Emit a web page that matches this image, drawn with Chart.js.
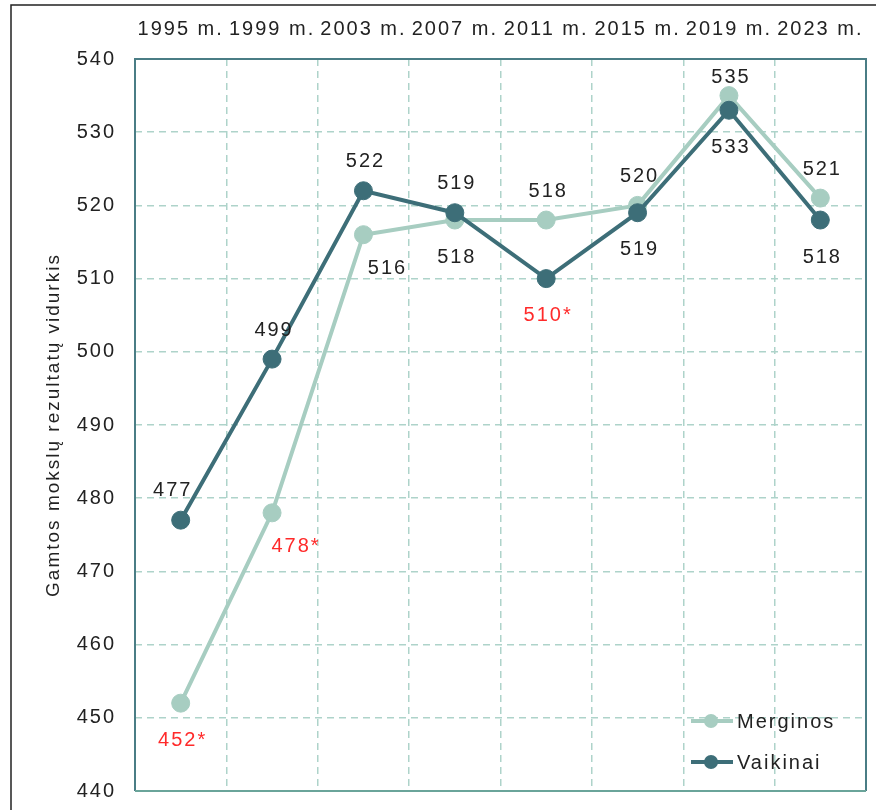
<!DOCTYPE html>
<html>
<head>
<meta charset="utf-8">
<script src="https://cdn.jsdelivr.net/npm/chart.js@4.4.1/dist/chart.umd.min.js"></script>
<style>
html,body{margin:0;padding:0;background:#fff}
#wrap{width:876px;height:810px}
</style>
</head>
<body>
<div id="wrap"><canvas id="myChart" width="876" height="810"></canvas></div>
<script>
// metai ir rezultatai
const metai = ['1995 m.', '1999 m.', '2003 m.', '2007 m.', '2011 m.', '2015 m.', '2019 m.', '2023 m.']
const merginos = [452, 478, 516, 518, 518, 520, 535, 521]
const vaikinai = [477, 499, 522, 519, 510, 519, 533, 518]
// statistiskai reiksmingas skirtumas (zymima *)
const merginosZvaigzde = [true, true, false, false, false, false, false, false]
const vaikinaiZvaigzde = [false, false, false, false, true, false, false, false]
const yTicks = [440, 450, 460, 470, 480, 490, 500, 510, 520, 530, 540]

const sviesi = '#a7cdc1'
const tamsi = '#3d6e78'
const tinklas = '#aed3ca'
const FONT = 'Liberation Sans'

// kur deti reiksmes etikete
const merginosVieta = ['down', 'downRight', 'downRight', 'down', 'up', 'up', 'up', 'up']
const vaikinaiVieta = ['upLeft', 'up', 'up', 'up', 'down', 'down', 'down', 'down']
const poslinkiai = {
    up: [2, -29],
    upLeft: [-8, -30],
    down: [2, 37],
    downRight: [24, 34]
}

const tarpai = {
    id: 'tarpai',
    beforeDraw(chart) {
        chart.ctx.letterSpacing = '2px'
        const ctx = chart.ctx
        ctx.save()
        ctx.strokeStyle = '#222'
        ctx.lineWidth = 1.5
        ctx.beginPath()
        ctx.moveTo(11, 810)
        ctx.lineTo(11, 5)
        ctx.lineTo(876, 5)
        ctx.stroke()
        ctx.restore()
    }
}

const remelis = {
    id: 'remelis',
    beforeDatasetsDraw(chart) {
        const {ctx, chartArea: a} = chart
        ctx.save()
        ctx.lineWidth = 2
        ctx.strokeStyle = '#4a7d85'
        ctx.beginPath()
        ctx.moveTo(a.left, a.bottom)
        ctx.lineTo(a.left, a.top)
        ctx.lineTo(a.right, a.top)
        ctx.lineTo(a.right, a.bottom)
        ctx.stroke()
        ctx.strokeStyle = '#6aa49a'
        ctx.beginPath()
        ctx.moveTo(a.left, a.bottom)
        ctx.lineTo(a.right, a.bottom)
        ctx.stroke()
        ctx.restore()
    }
}

const etiketes = {
    id: 'etiketes',
    afterDatasetsDraw(chart) {
        const ctx = chart.ctx
        const a = chart.chartArea
        const vietos = [merginosVieta, vaikinaiVieta]
        const zvaigzdes = [merginosZvaigzde, vaikinaiZvaigzde]
        ctx.save()
        ctx.font = '20px "' + FONT + '"'
        ctx.textAlign = 'center'
        ctx.textBaseline = 'middle'
        chart.data.datasets.forEach((ds, i) => {
            const meta = chart.getDatasetMeta(i)
            meta.data.forEach((pt, j) => {
                const off = poslinkiai[vietos[i][j]]
                let x = pt.x + off[0]
                let y = pt.y + off[1]
                if (y < a.top + 18) y = a.top + 18
                const zv = zvaigzdes[i][j]
                ctx.fillStyle = zv ? '#ff2a2a' : '#222'
                ctx.fillText(ds.data[j] + (zv ? '*' : ''), x, y)
            })
        })
        ctx.restore()
    }
}

const legenda = {
    id: 'legenda',
    afterDraw(chart) {
        const ctx = chart.ctx
        const a = chart.chartArea
        ctx.save()
        ctx.font = '20px "' + FONT + '"'
        ctx.textBaseline = 'middle'
        ctx.textAlign = 'left'
        chart.data.datasets.forEach((ds, i) => {
            const y = a.bottom - 70 + i * 41
            const x = a.right - 175
            ctx.strokeStyle = ds.borderColor
            ctx.lineWidth = 4
            ctx.beginPath()
            ctx.moveTo(x, y)
            ctx.lineTo(x + 42, y)
            ctx.stroke()
            ctx.fillStyle = ds.borderColor
            ctx.beginPath()
            ctx.arc(x + 20, y, 7, 0, Math.PI * 2)
            ctx.fill()
            ctx.fillStyle = '#222'
            ctx.fillText(ds.label, x + 46, y + 1)
        })
        ctx.restore()
    }
}

const chartContainer = document.getElementById('myChart')
const myChart = new Chart(chartContainer, {
    type: 'line',
    data: {
        labels: metai,
        datasets: [
            {
                label: 'Merginos',
                data: merginos,
                borderColor: sviesi,
                backgroundColor: sviesi,
                borderWidth: 4,
                pointRadius: 9,
                pointBorderWidth: 1,
                pointBackgroundColor: sviesi,
                pointBorderColor: sviesi,
                order: 1,
                clip: false
            },
            {
                label: 'Vaikinai',
                data: vaikinai,
                borderColor: tamsi,
                backgroundColor: tamsi,
                borderWidth: 4,
                pointRadius: 9,
                pointBorderWidth: 1,
                pointBackgroundColor: tamsi,
                pointBorderColor: tamsi,
                order: 0,
                clip: false
            }
        ]
    },
    options: {
        responsive: false,
        devicePixelRatio: 1,
        animation: false,
        layout: {padding: {left: 0, top: 0, right: -4, bottom: 19}},
        plugins: {
            legend: {display: false},
            tooltip: {enabled: false}
        },
        scales: {
            x: {
                position: 'top',
                offset: true,
                afterFit(scale) {
                    scale.height = 59
                    scale.paddingLeft = 0
                    scale.paddingRight = 0
                },
                grid: {offset: true, color: tinklas, lineWidth: 1.5, drawTicks: false},
                border: {display: false, dash: [7, 5]},
                ticks: {
                    color: '#222',
                    padding: 18,
                    autoSkip: false,
                    maxRotation: 0,
                    font: {family: FONT, size: 20}
                }
            },
            y: {
                min: 440,
                max: 540,
                afterFit(scale) {
                    scale.width = 135
                    scale.paddingTop = 0
                    scale.paddingBottom = 0
                },
                afterBuildTicks(scale) { scale.ticks = yTicks.map(v => ({value: v})) },
                grid: {color: tinklas, lineWidth: 1.5, drawTicks: false},
                border: {display: false, dash: [7, 5]},
                title: {
                    display: true,
                    text: 'Gamtos mokslų rezultatų vidurkis',
                    color: '#222',
                    padding: {top: 42, bottom: 0},
                    font: {family: FONT, size: 19}
                },
                ticks: {
                    color: '#222',
                    padding: 19,
                    font: {family: FONT, size: 20}
                }
            }
        }
    },
    plugins: [tarpai, remelis, etiketes, legenda]
})
</script>
</body>
</html>
